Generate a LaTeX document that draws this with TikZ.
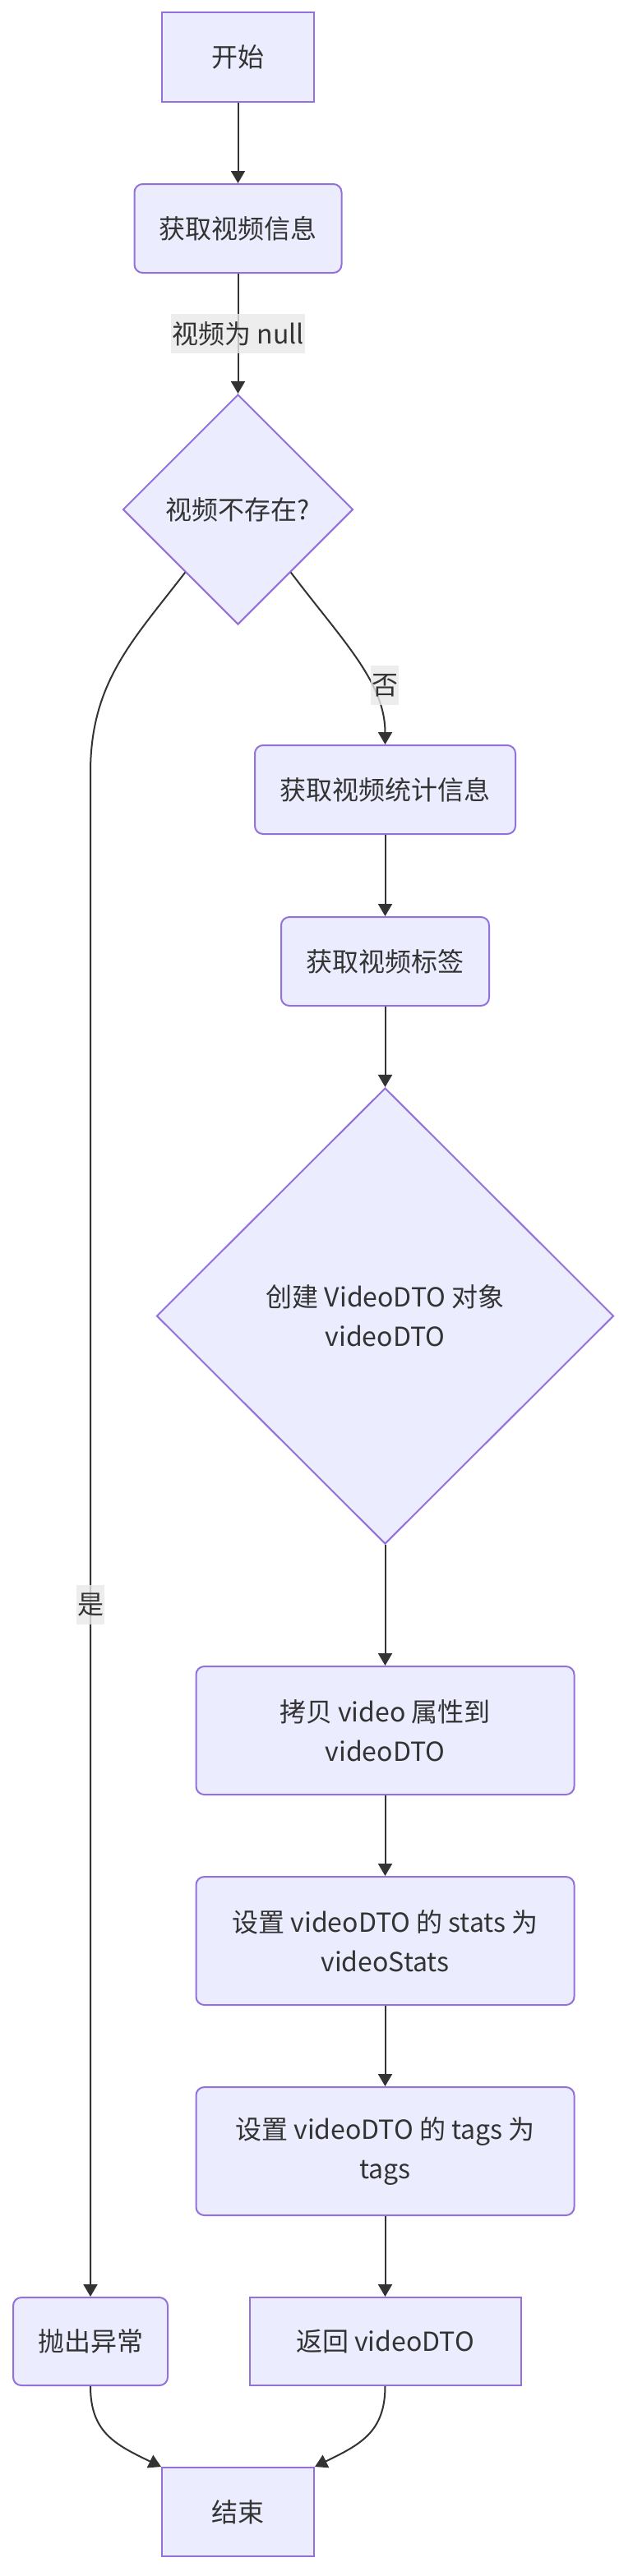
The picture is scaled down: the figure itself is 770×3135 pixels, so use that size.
\documentclass[tikz,border=0pt]{standalone}
\usepackage{fontspec}
\setmainfont{Noto Sans CJK SC}
\usetikzlibrary{shapes.geometric,arrows.meta}
\definecolor{nodefill}{HTML}{ECECFF}
\definecolor{nodeline}{HTML}{9370DB}
\definecolor{edgecol}{HTML}{333333}
\definecolor{labelbg}{HTML}{E8E8E8}
\definecolor{txt}{HTML}{333333}
\begin{document}
\begin{tikzpicture}[x=1pt,y=-1pt,
  base/.style={draw=nodeline, fill=nodefill, line width=2pt, text=txt,
    font=\fontsize{32}{48}\selectfont, align=center, inner sep=0pt},
  sq/.style={base, rectangle},
  rnd/.style={base, rectangle, rounded corners=10pt},
  dia/.style={base, diamond, aspect=1},
  flow/.style={draw=edgecol, line width=2pt, -{Triangle[length=15pt,width=17pt]}},
  elabel/.style={fill=labelbg, fill opacity=0.8, text opacity=1, text=txt,
    font=\fontsize{32}{48}\selectfont, inner xsep=1pt, inner ysep=0pt,
    minimum height=48pt}
]
\useasboundingbox (0,0) rectangle (770,3135);

\node[sq, minimum width=185pt, minimum height=109pt] (start) at (289.5,69.5) {开始};
\node[rnd, minimum width=252pt, minimum height=108pt] (get) at (289.5,278) {获取视频信息};
\node[dia, minimum width=280pt, minimum height=280pt] (d1) at (289.5,620) {视频不存在?};
\node[rnd, minimum width=317pt, minimum height=108pt] (stat) at (468.5,961) {获取视频统计信息};
\node[rnd, minimum width=253pt, minimum height=108pt] (tag) at (468.5,1170) {获取视频标签};
\node[dia, minimum width=556pt, minimum height=555pt] (d2) at (468.5,1601.5) {创建 VideoDTO 对象\\videoDTO};
\node[rnd, minimum width=460pt, minimum height=156pt] (copy) at (468.5,2106) {拷贝 video 属性到\\videoDTO};
\node[rnd, minimum width=460pt, minimum height=156pt] (setstats) at (468.5,2362) {设置 videoDTO 的 stats 为\\videoStats};
\node[rnd, minimum width=460pt, minimum height=156pt] (settags) at (468.5,2618) {设置 videoDTO 的 tags 为\\tags};
\node[rnd, minimum width=188pt, minimum height=107pt] (throw) at (110,2849.5) {抛出异常};
\node[sq, minimum width=330pt, minimum height=107pt] (ret) at (468.5,2849.5) {返回 videoDTO};
\node[sq, minimum width=185pt, minimum height=108pt] (end) at (289.5,3057) {结束};

\draw[flow] (start) -- (get);
\draw[flow] (get) -- (d1);
\draw[flow] (d1.230.7) .. controls (162,779) and (110,830) .. (110,940) -- (throw.north);
\draw[flow] (d1.310.5) .. controls (416,779) and (468.5,830) .. (stat.north);
\draw[flow] (stat) -- (tag);
\draw[flow] (tag) -- (d2);
\draw[flow] (d2) -- (copy);
\draw[flow] (copy) -- (setstats);
\draw[flow] (setstats) -- (settags);
\draw[flow] (settags) -- (ret);
\draw[flow] (throw.south) .. controls (110,2960) and (140,2975) .. (end.north west);
\draw[flow] (ret.south) .. controls (468.5,2960) and (438,2975) .. (end.north east);

\node[elabel] (l1) at (289.5,406) {视频为 null};
\node[elabel] (l2) at (468,834) {否};
\node[elabel] (l3) at (110,1953) {是};
\end{tikzpicture}
\end{document}
